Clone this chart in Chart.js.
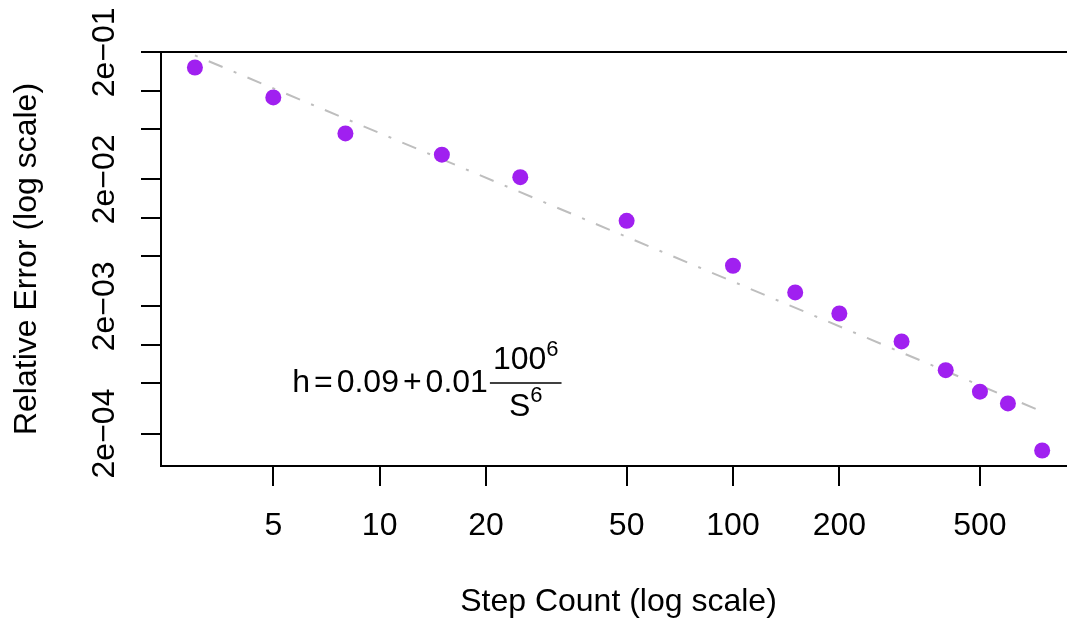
<!DOCTYPE html>
<html>
<head>
<meta charset="utf-8">
<script src="https://cdn.jsdelivr.net/npm/chart.js@4.4.0/dist/chart.umd.min.js"></script>
<style>
  html, body { margin: 0; padding: 0; background: #fff; overflow: hidden; }
  #wrap { width: 1085px; height: 618px; position: relative; }
</style>
</head>
<body>
<div id="wrap"><canvas id="err-chart"></canvas></div>

<script>
  // step counts and measured relative errors
  const steps = [3, 5, 8, 15, 25, 50, 100, 150, 200, 300, 400, 500, 600, 750];
  const relErr = [0.1517, 0.0882, 0.0460, 0.0313, 0.0208, 0.00943, 0.00418, 0.00258,
                  0.00176, 0.00106, 0.000630, 0.000427, 0.000345, 0.000147];

  // reference trend line (dot-dash)
  const fitSteps = [3, 724];
  const fitErr = [0.189, 0.00031];

  const xTicks = [5, 10, 20, 50, 100, 200, 500];
  const yTicks = [0.2, 0.1, 0.05, 0.02, 0.01, 0.005, 0.002, 0.001, 0.0005, 0.0002];
  const yLabelTicks = [0.2, 0.02, 0.002, 0.0002];
  const yLabels = ['2e\u221201', '2e\u221202', '2e\u221203', '2e\u221204'];

  const FONT = '"Liberation Sans", Arial, sans-serif';
  const FS = 32;

  function drawFormula(ctx, cx, cy) {
    const big = FS + 'px ' + FONT, small = '22px ' + FONT;
    ctx.fillStyle = '#000';
    ctx.textAlign = 'left';
    ctx.textBaseline = 'alphabetic';
    const gap = 4;
    const parts = ['h', '=', '0.09', '+', '0.01'];
    ctx.font = big;
    const widths = parts.map(p => ctx.measureText(p).width);
    const wNum = ctx.measureText('100').width;
    const wS = ctx.measureText('S').width;
    ctx.font = small;
    const wSup = ctx.measureText('6').width;
    const barW = Math.max(wNum, wS) + wSup + 6;
    const mainW = widths.reduce((s, w) => s + w, 0) + gap * (parts.length - 1);
    const total = mainW + 2 + barW;

    let px = cx - total / 2;
    ctx.font = big;
    parts.forEach((p, i) => {
      ctx.fillText(p, px, cy + 9);
      px += widths[i] + gap;
    });
    const barX = px - gap + 2;
    ctx.strokeStyle = '#000';
    ctx.lineWidth = 1.5;
    ctx.beginPath();
    ctx.moveTo(barX, cy);
    ctx.lineTo(barX + barW, cy);
    ctx.stroke();

    const barMid = barX + barW / 2;
    // numerator 100^6
    const nx = barMid - (wNum + wSup) / 2;
    ctx.font = big;
    ctx.fillText('100', nx, cy - 14);
    ctx.font = small;
    ctx.fillText('6', nx + wNum, cy - 27);
    // denominator S^6
    const dx = barMid - (wS + wSup) / 2;
    ctx.font = big;
    ctx.fillText('S', dx, cy + 33);
    ctx.font = small;
    ctx.fillText('6', dx + wS, cy + 19);
  }

  const framePlugin = {
    id: 'framePlugin',
    afterDraw(chart) {
      const { ctx, chartArea: a, scales: { x, y } } = chart;
      ctx.save();
      ctx.strokeStyle = '#000';
      ctx.lineWidth = 2;
      ctx.strokeRect(a.left, a.top, a.right - a.left, a.bottom - a.top);

      // rotated y tick labels (only the 2e-xx ones)
      ctx.font = FS + 'px ' + FONT;
      ctx.fillStyle = '#000';
      ctx.textAlign = 'center';
      ctx.textBaseline = 'middle';
      yLabelTicks.forEach((v, i) => {
        ctx.save();
        ctx.translate(a.left - 56, y.getPixelForValue(v));
        ctx.rotate(-Math.PI / 2);
        ctx.fillText(yLabels[i], 0, 0);
        ctx.restore();
      });

      drawFormula(ctx, x.getPixelForValue(13.6), y.getPixelForValue(0.0005));
      ctx.restore();
    }
  };

  Chart.defaults.font.family = FONT;
  Chart.defaults.font.size = FS;
  Chart.defaults.color = '#000';

  new Chart(document.getElementById('err-chart'), {
    type: 'scatter',
    data: {
      datasets: [
        {
          label: 'Relative error',
          data: steps.map((s, i) => ({ x: s, y: relErr[i] })),
          backgroundColor: '#A020F0',
          borderWidth: 0,
          pointRadius: 8,
          pointHoverRadius: 8
        },
        {
          label: 'Trend',
          data: fitSteps.map((s, i) => ({ x: s, y: fitErr[i] })),
          showLine: true,
          borderColor: '#BEBEBE',
          borderWidth: 2,
          borderDash: [3, 12, 15, 12],
          pointRadius: 0,
          fill: false
        }
      ]
    },
    options: {
      responsive: true,
      maintainAspectRatio: false,
      animation: false,
      layout: { padding: { top: 52, right: 9, left: 0, bottom: 0 } },
      plugins: { legend: { display: false }, tooltip: { enabled: false } },
      scales: {
        x: {
          type: 'logarithmic',
          min: 2.405,
          max: 935,
          bounds: 'data',
          afterBuildTicks: s => { s.ticks = xTicks.map(v => ({ value: v })); },
          afterFit: s => { s.height = 152; },
          grid: { drawOnChartArea: false, tickLength: 20, color: '#000', lineWidth: 2 },
          border: { display: true, color: '#000', width: 2 },
          ticks: {
            autoSkip: false, maxRotation: 0, padding: 24,
            font: { size: FS, lineHeight: 1 },
            callback: v => String(v)
          },
          title: {
            display: true, text: 'Step Count (log scale)',
            font: { size: FS, lineHeight: 1 }, padding: { top: 0, bottom: 0 }
          }
        },
        y: {
          type: 'logarithmic',
          min: 1.11e-4,
          max: 0.201,
          bounds: 'data',
          afterBuildTicks: s => { s.ticks = yTicks.map(v => ({ value: v })); },
          afterFit: s => { s.width = 161; },
          grid: { drawOnChartArea: false, tickLength: 20, color: '#000', lineWidth: 2 },
          border: { display: true, color: '#000', width: 2 },
          ticks: { display: false },
          title: {
            display: true, text: 'Relative Error (log scale)',
            font: { size: FS, lineHeight: 1 }, padding: { top: 11, bottom: 0 }
          }
        }
      }
    },
    plugins: [framePlugin]
  });
</script>
</body>
</html>
